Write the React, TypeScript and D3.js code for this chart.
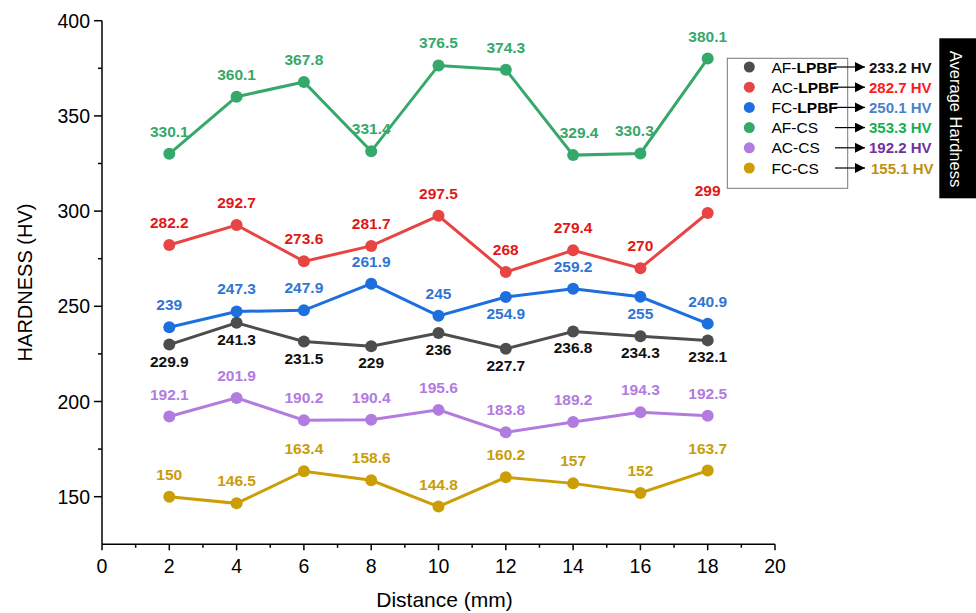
import React, { useEffect, useRef } from 'react'
import * as d3 from 'd3'

const distances = [2, 4, 6, 8, 10, 12, 14, 16, 18]

const afCS = [330.1, 360.1, 367.8, 331.4, 376.5, 374.3, 329.4, 330.3, 380.1]
const acLPBF = [282.2, 292.7, 273.6, 281.7, 297.5, 268, 279.4, 270, 299]
const fcLPBF = [239, 247.3, 247.9, 261.9, 245, 254.9, 259.2, 255, 240.9]
const afLPBF = [229.9, 241.3, 231.5, 229, 236, 227.7, 236.8, 234.3, 232.1]
const acCS = [192.1, 201.9, 190.2, 190.4, 195.6, 183.8, 189.2, 194.3, 192.5]
const fcCS = [150, 146.5, 163.4, 158.6, 144.8, 160.2, 157, 152, 163.7]

// which labels sit below the point (others above)
const fcLPBFBelow = [false, false, false, false, false, true, false, true, false]

const legendNames = ['AF-', 'AC-', 'FC-', 'AF-CS', 'AC-CS', 'FC-CS']
const averages = ['233.2 HV', '282.7 HV', '250.1 HV', '353.3 HV', '192.2 HV', '155.1 HV']
const averageColors = ['#111111', '#ff1a1a', '#4a7fd0', '#12b050', '#7030a0', '#c09010']

const xTicks = d3.range(0, 21, 2)
const yTicks = [150, 200, 250, 300, 350, 400]

const series = [
  { name: 'AF-CS', values: afCS, color: '#35a86b', label: '#35a86b', below: afCS.map(() => false), dx: [0, 0, 0, 0, 0, 0, 6, -6, 0] },
  { name: 'AC-LPBF', values: acLPBF, color: '#e84444', label: '#e01818', below: acLPBF.map(() => false), dx: null },
  { name: 'FC-LPBF', values: fcLPBF, color: '#1c6fdc', label: '#2f76d2', below: fcLPBFBelow, dx: null },
  { name: 'AF-LPBF', values: afLPBF, color: '#4d4d4d', label: '#111111', below: afLPBF.map(() => true), dx: null },
  { name: 'AC-CS', values: acCS, color: '#b27bdf', label: '#b27bdf', below: acCS.map(() => false), dx: null },
  { name: 'FC-CS', values: fcCS, color: '#cc9e06', label: '#c99c0a', below: fcCS.map(() => false), dx: null },
]
const legendColors = ['#4d4d4d', '#e84444', '#1c6fdc', '#35a86b', '#b27bdf', '#cc9e06']

const W = 976
const H = 613

export default function App() {
  const ref = useRef<SVGSVGElement>(null)

  useEffect(() => {
    const svg = d3.select(ref.current)
    svg.selectAll('*').remove()

    const x = d3.scaleLinear().domain([0, 20]).range([102, 775])
    const y = d3.scaleLinear().domain([125, 400]).range([544.3, 20.7])
    const font = 'Liberation Sans, Arial, sans-serif'

    // axes
    const xAxis = svg.append('g').attr('transform', `translate(0,${y(125)})`)
    xAxis.append('line').attr('x1', x(0)).attr('x2', x(20)).attr('stroke', '#000').attr('stroke-width', 1.5)
    d3.range(0, 21, 1).forEach((t) => {
      xAxis.append('line')
        .attr('x1', x(t)).attr('x2', x(t))
        .attr('y1', 0).attr('y2', t % 2 === 0 ? 6 : 3.5)
        .attr('stroke', '#000').attr('stroke-width', 1.5)
    })
    xAxis.selectAll('text.tick').data(xTicks).enter().append('text')
      .attr('x', (d) => x(d)).attr('y', 29)
      .attr('text-anchor', 'middle')
      .style('font-family', font).style('font-size', '19.5px')
      .text((d) => d)

    const yAxis = svg.append('g').attr('transform', `translate(${x(0)},0)`)
    yAxis.append('line').attr('y1', y(125)).attr('y2', y(400)).attr('stroke', '#000').attr('stroke-width', 1.5)
    d3.range(150, 401, 25).forEach((t) => {
      yAxis.append('line')
        .attr('y1', y(t)).attr('y2', y(t))
        .attr('x1', 0).attr('x2', t % 50 === 0 ? -8 : -4)
        .attr('stroke', '#000').attr('stroke-width', 1.5)
    })
    yAxis.selectAll('text.tick').data(yTicks).enter().append('text')
      .attr('x', -12).attr('y', (d) => y(d) + 7)
      .attr('text-anchor', 'end')
      .style('font-family', font).style('font-size', '19.5px')
      .text((d) => d)

    svg.append('text')
      .attr('transform', `translate(32,${(y(125) + y(400)) / 2}) rotate(-90)`)
      .attr('text-anchor', 'middle')
      .style('font-family', font).style('font-size', '20px')
      .text('HARDNESS (HV)')

    svg.append('text')
      .attr('x', (x(0) + x(20)) / 2 + 6).attr('y', 607)
      .attr('text-anchor', 'middle')
      .style('font-family', font).style('font-size', '21px')
      .text('Distance (mm)')

    // lines, points, labels
    const line = d3.line<number>()
      .x((d, i) => x(distances[i]))
      .y((d) => y(d))

    series.forEach((s) => {
      const g = svg.append('g')
      g.append('path')
        .attr('d', line(s.values))
        .attr('fill', 'none')
        .attr('stroke', s.color)
        .attr('stroke-width', 3)
      g.selectAll('circle').data(s.values).enter().append('circle')
        .attr('cx', (d, i) => x(distances[i]))
        .attr('cy', (d) => y(d))
        .attr('r', 6)
        .attr('fill', s.color)
      g.selectAll('text').data(s.values).enter().append('text')
        .attr('x', (d, i) => x(distances[i]) + (s.dx ? s.dx[i] : 0))
        .attr('y', (d, i) => y(d) + (s.below[i] ? 22 : -17))
        .attr('text-anchor', 'middle')
        .attr('fill', s.label)
        .style('font-family', font).style('font-size', '15.5px').style('font-weight', 'bold')
        .text((d) => d)
    })

    // legend
    const leg = svg.append('g')
    leg.append('rect')
      .attr('x', 727.3).attr('y', 58.3).attr('width', 120.4).attr('height', 130)
      .attr('fill', '#fff').attr('stroke', '#777').attr('stroke-width', 1)

    const defs = svg.append('defs')
    defs.append('marker')
      .attr('id', 'arrow').attr('viewBox', '0 0 10 10')
      .attr('refX', 10).attr('refY', 5)
      .attr('markerWidth', 12).attr('markerHeight', 10)
      .attr('markerUnits', 'userSpaceOnUse')
      .attr('orient', 'auto')
      .append('path').attr('d', 'M0,0L10,5L0,10Z').attr('fill', '#000')

    const rowY = (i: number) => 67 + i * 20.2
    legendNames.forEach((n, i) => {
      leg.append('circle').attr('cx', 749.3).attr('cy', rowY(i)).attr('r', 5.5).attr('fill', legendColors[i])
      const t = leg.append('text')
        .attr('x', 771.5).attr('y', rowY(i) + 5.5)
        .style('font-family', font).style('font-size', '15.5px')
      t.append('tspan').text(n)
      if (i < 3) t.append('tspan').style('font-weight', 'bold').text('LPBF')
      leg.append('line')
        .attr('x1', i < 3 ? 834 : 835).attr('x2', 865)
        .attr('y1', rowY(i)).attr('y2', rowY(i))
        .attr('stroke', '#000').attr('stroke-width', 1.2)
        .attr('marker-end', 'url(#arrow)')
      leg.append('text')
        .attr('x', i === 5 ? 871 : 869).attr('y', rowY(i) + 5.5)
        .attr('fill', averageColors[i])
        .style('font-family', font).style('font-size', '15px').style('font-weight', 'bold')
        .text(averages[i])
    })

    svg.append('rect').attr('x', 939.3).attr('y', 38.3).attr('width', 40).attr('height', 160).attr('fill', '#000')
    svg.append('text')
      .attr('transform', 'translate(949.5,119) rotate(90)')
      .attr('text-anchor', 'middle')
      .attr('fill', '#fff')
      .style('font-family', font).style('font-size', '16.5px')
      .text('Average Hardness')
  }, [])

  return (
    <svg
      ref={ref}
      width={W}
      height={H}
      viewBox={`0 0 ${W} ${H}`}
      style={{ position: 'absolute', left: 0, top: 0, background: '#fff' }}
    />
  )
}
